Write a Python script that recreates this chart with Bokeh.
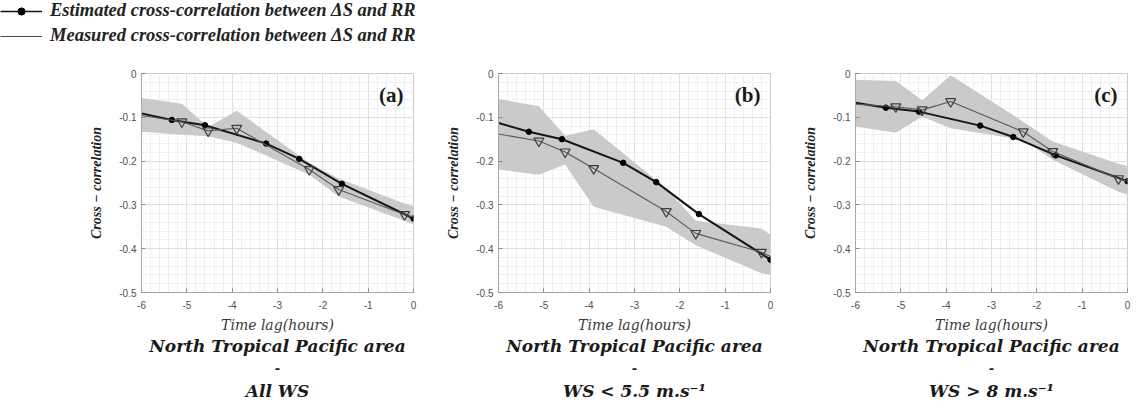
from bokeh.plotting import figure
from bokeh.layouts import column, row
from bokeh.models import (Range1d, FixedTicker, Label, Legend, LegendItem,
                          ColumnDataSource, NumeralTickFormatter)
from bokeh.core.properties import value
from bokeh.embed import file_html
from bokeh.resources import INLINE
import numpy as np

# ---- data -----------------------------------------------------------------
# time lags (hours) of the estimated and measured cross-correlations
lag_est = [-6.0, -5.33, -4.60, -3.25, -2.52, -1.58, 0.0]
lag_meas = [-6.0, -5.11, -4.53, -3.90, -2.30, -1.65, -0.20, 0.0]

# estimated cross-correlation between dS and RR
est_a = [-0.091, -0.106, -0.118, -0.160, -0.195, -0.252, -0.331]
est_b = [-0.113, -0.133, -0.150, -0.204, -0.248, -0.321, -0.425]
est_c = [-0.067, -0.078, -0.087, -0.119, -0.145, -0.187, -0.246]

# measured cross-correlation between dS and RR
meas_a = [-0.096, -0.110, -0.131, -0.125, -0.219, -0.265, -0.322, -0.328]
meas_b = [-0.138, -0.154, -0.179, -0.217, -0.315, -0.365, -0.408, -0.418]
meas_c = [-0.070, -0.076, -0.083, -0.064, -0.133, -0.178, -0.240, -0.246]

# spread of the measured cross-correlation (lower / upper bound)
low_a = [-0.133, -0.140, -0.143, -0.158, -0.231, -0.281, -0.336, -0.345]
high_a = [-0.056, -0.069, -0.122, -0.085, -0.204, -0.240, -0.297, -0.303]
low_b = [-0.219, -0.231, -0.208, -0.304, -0.350, -0.392, -0.456, -0.460]
high_b = [-0.058, -0.075, -0.142, -0.127, -0.262, -0.336, -0.354, -0.368]
low_c = [-0.121, -0.135, -0.098, -0.125, -0.152, -0.197, -0.270, -0.277]
high_c = [-0.014, -0.017, -0.061, -0.004, -0.110, -0.155, -0.206, -0.211]

panel_tags = ["(a)", "(b)", "(c)"]
area_label = "North Tropical Pacific area"
ws_labels = ["All WS", "WS < 5.5 m.s\u207b\u00b9", "WS > 8 m.s\u207b\u00b9"]
x_ticks = [-6, -5, -4, -3, -2, -1, 0]
y_ticks = [-0.5, -0.4, -0.3, -0.2, -0.1, 0.0]
legend_labels = ["Estimated cross-correlation between \u0394S and RR",
                 "Measured cross-correlation between \u0394S and RR"]

# ---- layout ---------------------------------------------------------------
TOTAL_W = 1143
LEG_H = 50
PANEL_H = 286
TEXT_H = 67
FRAME_W = 272
panel_widths = [430, 356, 357]
panel_lefts = [141, 68, 69]

SERIF = "Liberation Serif"
WIDE_SERIF = "DejaVu Serif"
FRAME_GRAY = "#a8a8a8"


def make_panel(k, est, meas, low, high):
    w = panel_widths[k]
    left = panel_lefts[k]
    p = figure(width=w, height=PANEL_H, x_range=Range1d(-6, 0),
               y_range=Range1d(-0.5, 0), output_backend="svg",
               toolbar_location=None, title=None,
               min_border_left=left, min_border_right=w - left - FRAME_W,
               min_border_top=23, min_border_bottom=44)
    p.background_fill_color = "white"
    p.border_fill_color = "white"
    p.outline_line_color = FRAME_GRAY
    p.outline_line_width = 1

    # shaded spread of the measured series
    p.varea(x=lag_meas, y1=low, y2=high, fill_color="#cacaca", fill_alpha=1.0)

    # estimated series: thick black line with dots
    p.line(lag_est, est, line_color="#151515", line_width=2)
    p.scatter(lag_est[1:], est[1:], marker="circle", size=5.5,
              fill_color="#000000", line_color="#000000")

    # measured series: thin grey line with open down-triangles
    p.line(lag_meas, meas, line_color="#5a5a5a", line_width=1.1)
    p.scatter(lag_meas[1:-1], meas[1:-1], marker="inverted_triangle", size=10,
              fill_color=None, line_color="#3c3c3c", line_width=1.2)

    # axes
    xminor = list(np.arange(-6, 0.001, 0.2))
    yminor = list(np.arange(-0.5, 0.0001, 0.02))
    p.xaxis.ticker = FixedTicker(ticks=x_ticks, minor_ticks=xminor)
    p.yaxis.ticker = FixedTicker(ticks=y_ticks, minor_ticks=yminor)
    p.xaxis.formatter = NumeralTickFormatter(format="0.[0]")
    p.yaxis.formatter = NumeralTickFormatter(format="0.[0]")
    for ax in (p.xaxis, p.yaxis):
        ax.axis_line_color = FRAME_GRAY
        ax.major_tick_line_color = "#8c8c8c"
        ax.major_tick_in = 4
        ax.major_tick_out = 0
        ax.minor_tick_in = 0
        ax.minor_tick_out = 0
        ax.major_label_text_font = "Liberation Sans"
        ax.major_label_text_font_size = "10px"
        ax.major_label_text_color = "#505050"
    p.xaxis.major_label_standoff = 8
    p.yaxis.major_label_standoff = 5

    p.xaxis.axis_label = "Time lag(hours)"
    p.xaxis.axis_label_text_font = WIDE_SERIF
    p.xaxis.axis_label_text_font_style = "italic"
    p.xaxis.axis_label_text_font_size = "14px"
    p.xaxis.axis_label_text_color = "#3a3a3a"
    p.xaxis.axis_label_standoff = 5

    p.yaxis.axis_label = "Cross \u2212 correlation"
    p.yaxis.axis_label_text_font = SERIF
    p.yaxis.axis_label_text_font_style = "bold italic"
    p.yaxis.axis_label_text_font_size = "14px"
    p.yaxis.axis_label_text_color = "#222222"
    p.yaxis.axis_label_standoff = 12

    # grid
    p.xgrid.grid_line_color = "#e0e0e0"
    p.ygrid.grid_line_color = "#e0e0e0"
    p.xgrid.minor_grid_line_color = "#efefef"
    p.ygrid.minor_grid_line_color = "#efefef"

    # panel tag
    p.add_layout(Label(x=-0.22, y=-0.05, text=panel_tags[k],
                       text_align="right", text_baseline="middle",
                       text_font=SERIF, text_font_style="bold",
                       text_font_size="21px", text_color="#1a1a1a"))
    return p


pa = make_panel(0, est_a, meas_a, low_a, high_a)
pb = make_panel(1, est_b, meas_b, low_b, high_b)
pc = make_panel(2, est_c, meas_c, low_c, high_c)

# ---- legend strip ---------------------------------------------------------
# the key's renderers hold panel (a) data but sit outside this strip's ranges,
# so only their legend samples are drawn
leg = figure(width=TOTAL_W, height=LEG_H, x_range=Range1d(10, 11),
             y_range=Range1d(10, 11), x_axis_type=None, y_axis_type=None,
             output_backend="svg", toolbar_location=None, min_border=0)
leg.outline_line_color = None
leg.xgrid.visible = False
leg.ygrid.visible = False
src_est = ColumnDataSource(dict(x=lag_est, y=est_a))
src_meas = ColumnDataSource(dict(x=lag_meas, y=meas_a))
r_est = leg.line("x", "y", source=src_est, line_color="#151515", line_width=1.5)
r_dot = leg.scatter("x", "y", source=src_est, marker="circle", size=4,
                    fill_color="#000000", line_color="#000000")
r_meas = leg.line("x", "y", source=src_meas, line_color="#4a4a4a", line_width=1.2)
legend = Legend(items=[LegendItem(label=legend_labels[0], renderers=[r_est, r_dot]),
                       LegendItem(label=legend_labels[1], renderers=[r_meas])],
                location="top_left", orientation="vertical",
                padding=0, margin=0, spacing=4,
                glyph_width=42, glyph_height=18, label_height=18,
                label_standoff=8,
                label_text_font=SERIF, label_text_font_style="bold italic",
                label_text_font_size="18.5px", label_text_color="#222222",
                border_line_color=None, background_fill_alpha=0)
leg.add_layout(legend)

# ---- captions under each panel --------------------------------------------
txt = figure(width=TOTAL_W, height=TEXT_H, x_range=Range1d(0, TOTAL_W),
             y_range=Range1d(TEXT_H, 0), x_axis_type=None, y_axis_type=None,
             output_backend="svg", toolbar_location=None, min_border=0)
txt.outline_line_color = None
frame_centers = []
acc = 0
for w, l in zip(panel_widths, panel_lefts):
    frame_centers.append(acc + l + FRAME_W / 2)
    acc += w
n = len(frame_centers)
txt.text(x=frame_centers, y=[9] * n, text=[area_label] * n,
         text_font=value(WIDE_SERIF), text_font_style="bold italic",
         text_font_size="17px", text_align="center", text_baseline="middle",
         text_color="#1a1a1a")
txt.text(x=frame_centers, y=[31] * n, text=["-"] * n,
         text_font=value(WIDE_SERIF), text_font_style="bold",
         text_font_size="13px", text_align="center", text_baseline="middle",
         text_color="#1a1a1a")
txt.text(x=frame_centers, y=[54] * n, text=ws_labels,
         text_font=value(WIDE_SERIF), text_font_style="bold italic",
         text_font_size="17px", text_align="center", text_baseline="middle",
         text_color="#1a1a1a")

layout = column(leg, row(pa, pb, pc, spacing=0), txt, spacing=0)
open("out.html", "w").write(file_html(layout, INLINE))
